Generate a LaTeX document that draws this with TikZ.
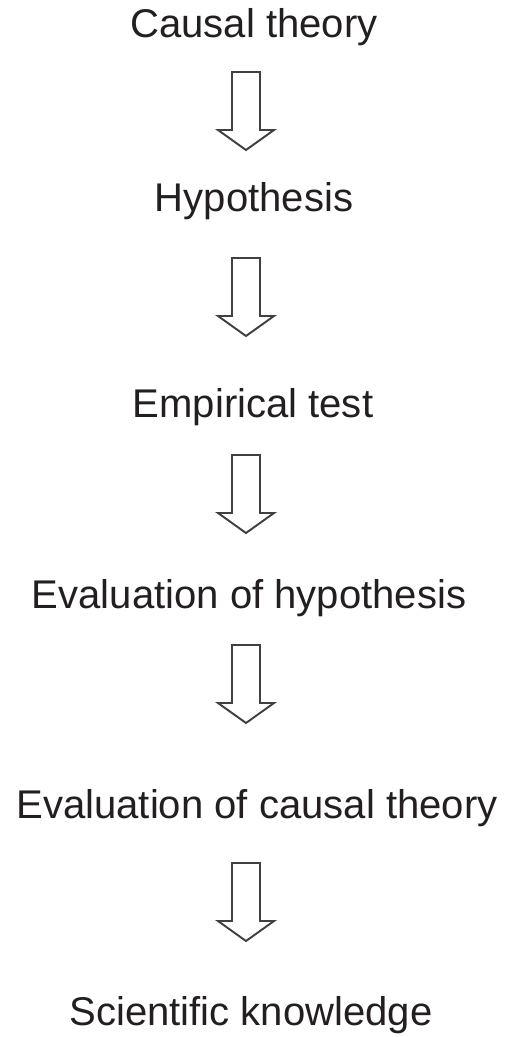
\documentclass[tikz,border=0pt]{standalone}
\usepackage{fontspec}
\setmainfont{Liberation Sans}
\usepackage{tikz}
\usetikzlibrary{calc}
\definecolor{textink}{HTML}{231F20}
\definecolor{arrowline}{HTML}{404040}

\begin{document}
\begin{tikzpicture}[
  x=0.02cm,y=-0.02cm,
  stage/.style={anchor=base,inner sep=0pt,text=textink,font=\fontsize{22.8}{27}\selectfont},
  hollow/.style={draw=arrowline,line width=1.1pt,fill=white,line join=miter}
]
\useasboundingbox (0,0) rectangle (506,1037);
\node[stage] (theory) at (254,38) {Causal theory};
\node[stage] (hyp) at (254,212) {Hypothesis};
\node[stage] (test) at (253,417) {Empirical test};
\node[stage] (evalhyp) at (249,608) {Evaluation of hypothesis};
\node[stage] (evaltheory) at (257,818) {Evaluation of causal theory};
\node[stage] (know) at (251,1025) {Scientific knowledge};
% hollow block arrows between the stages
\foreach \top/\name in {72/a1,258/a2,455/a3,645/a4,863/a5}{
  \coordinate (\name) at (246,\top);
  \draw[hollow] (\name) ++(-14,0) -- ++(0,58) -- ++(-14,0) -- ++(28,20)
    -- ++(28,-20) -- ++(-14,0) -- ++(0,-58) -- cycle;
}
\end{tikzpicture}
\end{document}
